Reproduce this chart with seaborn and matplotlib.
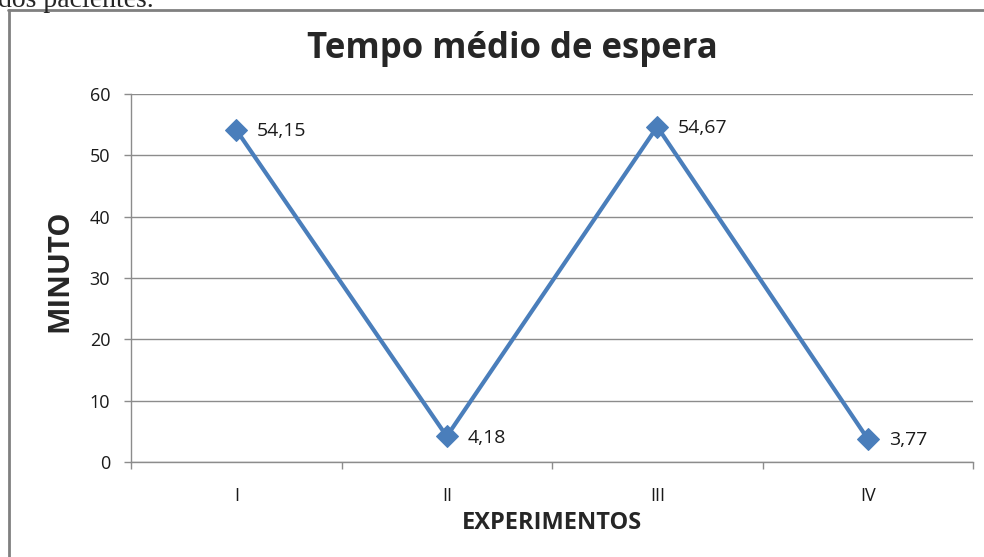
import numpy as np
import pandas as pd
import matplotlib
matplotlib.use("Agg")
import matplotlib.pyplot as plt
from matplotlib.lines import Line2D
import seaborn as sns

# data
experimentos = ["I", "II", "III", "IV"]
tempo_medio = [54.15, 4.18, 54.67, 3.77]
rotulos = ["54,15", "4,18", "54,67", "3,77"]
y_ticks = [0, 10, 20, 30, 40, 50, 60]

sns.set_style("white")
plt.rcParams['font.family'] = ['Open Sans', 'DejaVu Sans']

df = pd.DataFrame({"exp": experimentos, "tempo": tempo_medio})

fig = plt.figure(figsize=(9.84, 5.57), dpi=100)
ax = fig.add_axes([131 / 984, 1 - 462 / 557, (973 - 131) / 984, (462 - 94) / 557])

blue = "#4A7EBB"
sns.lineplot(data=df, x="exp", y="tempo", ax=ax, color=blue, linewidth=3,
             marker="D", markersize=11, markeredgecolor=blue, sort=False)

ax.set_xlim(-0.5, len(experimentos) - 0.5)
ax.set_ylim(0, 60)
ax.set_yticks(y_ticks)
ax.yaxis.grid(True, color="#8c8c8c", linewidth=1)
ax.xaxis.grid(False)

for side in ["top", "right"]:
    ax.spines[side].set_visible(False)
for side in ["left", "bottom"]:
    ax.spines[side].set_color("#8c8c8c")
    ax.spines[side].set_linewidth(1)

# category ticks between the labels, as in Excel
ax.set_xticks(np.arange(len(experimentos)))
ax.set_xticklabels(experimentos)
ax.set_xticks(np.arange(len(experimentos) + 1) - 0.5, minor=True)
ax.tick_params(axis="x", which="major", length=0, pad=18, labelsize=13, colors="#1a1a1a")
ax.tick_params(axis="x", which="minor", length=5, width=1, color="#8c8c8c", direction="out")
ax.tick_params(axis="y", length=5, width=1, color="#8c8c8c", direction="out", pad=10,
               labelsize=13, labelcolor="#1a1a1a")
ax.tick_params(axis="y", left=True)
ax.tick_params(axis="x", which="minor", bottom=True)

for i, (v, lab) in enumerate(zip(tempo_medio, rotulos)):
    ax.annotate(lab, (i, v), xytext=(15, -1), textcoords="offset points",
                ha="left", va="center", fontsize=14, color="#1a1a1a")

ax.set_xlabel("EXPERIMENTOS", fontsize=17, fontweight="bold", va="center")
ax.xaxis.set_label_coords(0.5, (462 - 523) / 368)
ax.set_ylabel("MINUTO", fontsize=21, fontweight="bold", va="center")
ax.yaxis.set_label_coords((60 - 131) / 842, 0.52)

fig.text(512 / 984, 1 - 49 / 557, "Tempo médio de espera", ha="center", va="center",
         fontsize=25, fontweight="bold")

# frame of the pasted chart and the cut-off document line above it
fig.add_artist(Line2D([8 / 984, 1.0], [1 - 10 / 557, 1 - 10 / 557], color="#808080", linewidth=2))
fig.add_artist(Line2D([9 / 984, 9 / 984], [0.0, 1 - 10 / 557], color="#808080", linewidth=2))
fig.text(-2 / 984, 1 - 7 / 557, "dos pacientes.", ha="left", va="baseline",
         fontsize=20, family=["Liberation Serif"])

fig.savefig("out.png", dpi=100)
